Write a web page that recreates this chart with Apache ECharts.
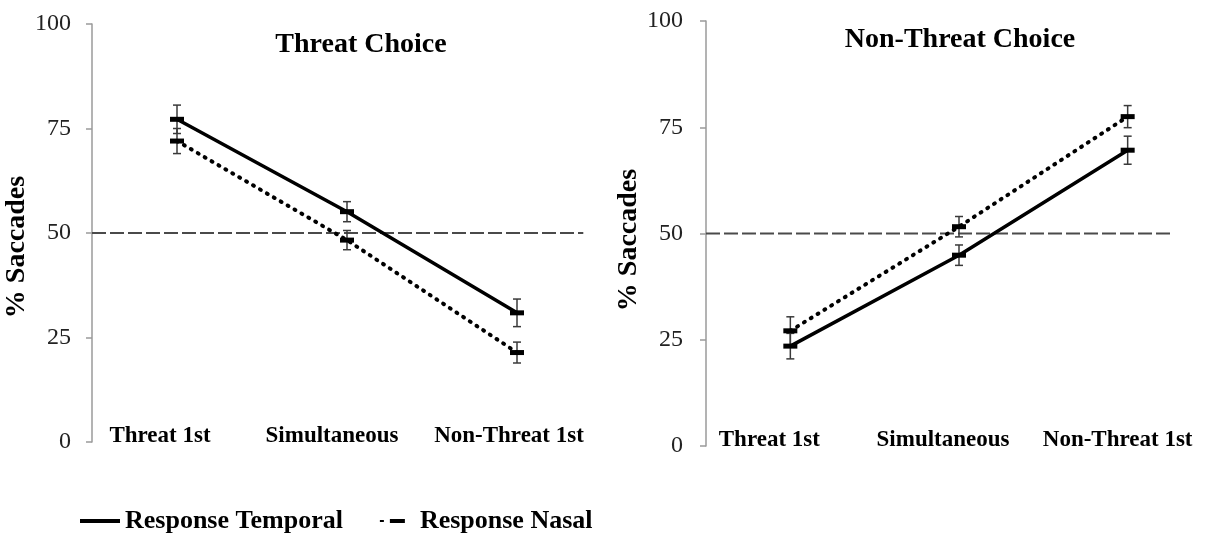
<!DOCTYPE html>
<html><head><meta charset="utf-8">
<script src="https://cdn.jsdelivr.net/npm/echarts@6/dist/echarts.min.js"></script>
<style>html,body{margin:0;padding:0;background:#fff}#c{width:1212px;height:534px}</style>
</head><body><div id="c"></div>
<script>
// ---- data ----
const categories = ['Threat 1st', 'Simultaneous', 'Non-Threat 1st'];
const yTickMin = 0, yTickMax = 100, yTickStep = 25;
const threatTemporal = [77.2, 55.1, 30.9];
const threatTemporalErr = [3.4, 2.4, 3.3];
const threatNasal = [72.0, 48.3, 21.4];
const threatNasalErr = [3.0, 2.3, 2.5];
const nonThreatTemporal = [23.5, 44.9, 69.6];
const nonThreatTemporalErr = [3.0, 2.4, 3.3];
const nonThreatNasal = [27.1, 51.6, 77.5];
const nonThreatNasalErr = [3.3, 2.4, 2.6];
const chanceLevel = 50;
const chanceEndLeft = 2.89;   // in category-band units
const chanceEndRight = 2.76;

// ---- style ----
const SERIF = 'Liberation Serif';
const labelShiftLeft = [17, 15, 8];
const labelShiftRight = [21, 16, 10];

function richFor(shifts) {
  const r = {};
  shifts.forEach((s, i) => {
    r['c' + i] = { fontFamily: SERIF, fontWeight: 'bold', fontSize: 23, color: '#000', padding: [0, 2 * s, 0, 0] };
  });
  return r;
}

function catAxis(gridIndex, shifts) {
  return {
    type: 'category', gridIndex, data: categories, boundaryGap: true,
    axisLine: { show: false }, axisTick: { show: false },
    axisLabel: {
      margin: -17, interval: 0,
      formatter: (v, i) => '{c' + i + '|' + v + '}',
      rich: richFor(shifts)
    }
  };
}
function valXAxis(gridIndex) {
  return { type: 'value', gridIndex, min: 0, max: 3, show: false };
}
function yAx(gridIndex, namePad, nameGap, labelMargin) {
  return {
    type: 'value', gridIndex, min: yTickMin, max: yTickMax, interval: yTickStep,
    name: '% Saccades', nameLocation: 'middle', nameGap,
    nameTextStyle: { fontFamily: SERIF, fontWeight: 'bold', fontSize: 28, color: '#000', padding: [0, namePad, 0, 0] },
    axisLine: { show: true, lineStyle: { color: '#9a9a9a', width: 1.5 } },
    axisTick: { show: true, length: 6, lineStyle: { color: '#9a9a9a', width: 1.5 } },
    splitLine: { show: false },
    axisLabel: { fontFamily: SERIF, fontSize: 24, color: '#222', margin: labelMargin }
  };
}
function lineSeries(name, data, xi, yi, dotted) {
  return {
    type: 'line', name, data, xAxisIndex: xi, yAxisIndex: yi,
    symbol: 'rect', symbolSize: [14, 5],
    itemStyle: { color: '#000' },
    lineStyle: dotted
      ? { color: '#000', width: 4, type: [1, 7], cap: 'round' }
      : { color: '#000', width: 3.5 },
    z: 3, animation: false
  };
}
function errSeries(name, vals, errs, xi, yi) {
  return {
    type: 'custom', name, xAxisIndex: xi, yAxisIndex: yi,
    data: vals.map((v, i) => [i, v, errs[i]]),
    encode: { x: 0, y: 1 },
    renderItem: (params, api) => {
      const x = api.value(0), y = api.value(1), e = api.value(2);
      const t = api.coord([x, y + e]), b = api.coord([x, y - e]);
      const st = { stroke: '#3a3a3a', lineWidth: 1.5 };
      const hw = 4;
      return { type: 'group', children: [
        { type: 'line', shape: { x1: t[0], y1: t[1], x2: b[0], y2: b[1] }, style: st },
        { type: 'line', shape: { x1: t[0] - hw, y1: t[1], x2: t[0] + hw, y2: t[1] }, style: st },
        { type: 'line', shape: { x1: b[0] - hw, y1: b[1], x2: b[0] + hw, y2: b[1] }, style: st }
      ]};
    },
    z: 2, animation: false, silent: true
  };
}
function chanceSeries(endX, xi, yi) {
  return {
    type: 'line', name: 'chance', xAxisIndex: xi, yAxisIndex: yi,
    data: [[0, chanceLevel], [endX, chanceLevel]],
    symbol: 'none', silent: true,
    lineStyle: { color: '#4a4a4a', width: 2, type: [14, 4] },
    z: 1, animation: false
  };
}

const chart = echarts.init(document.getElementById('c'), null, { renderer: 'canvas' });
chart.setOption({
  animation: false,
  backgroundColor: '#fff',
  title: [
    { text: 'Threat Choice', left: 356, top: 26, textAlign: 'center',
      textStyle: { fontFamily: SERIF, fontWeight: 'bold', fontSize: 28, color: '#000' } },
    { text: 'Non-Threat Choice', left: 955, top: 21, textAlign: 'center',
      textStyle: { fontFamily: SERIF, fontWeight: 'bold', fontSize: 28, color: '#000' } }
  ],
  legend: {
    left: 80, top: 508, padding: 0, itemWidth: 40, itemHeight: 4, itemGap: 32,
    data: [
      { name: 'Response Temporal', icon: 'path://M0,0H40V4H0Z' },
      { name: 'Response Nasal', icon: 'path://M5,1H9V3H5Z M15,0H30V4H15Z M0,2H0.01V2.01H0Z M40,2H40.01V2.01H40Z' }
    ],
    textStyle: { fontFamily: SERIF, fontWeight: 'bold', fontSize: 26, color: '#000' }
  },
  grid: [
    { left: 92, top: 24, width: 510, height: 418 },
    { left: 706, top: 21, width: 508, height: 425 }
  ],
  xAxis: [catAxis(0, labelShiftLeft), valXAxis(0), catAxis(1, labelShiftRight), valXAxis(1)],
  yAxis: [yAx(0, 28, 55, 21), yAx(1, 13, 47, 23)],
  series: [
    lineSeries('Response Temporal', threatTemporal, 0, 0, false),
    lineSeries('Response Nasal', threatNasal, 0, 0, true),
    lineSeries('Response Temporal', nonThreatTemporal, 2, 1, false),
    lineSeries('Response Nasal', nonThreatNasal, 2, 1, true),
    chanceSeries(chanceEndLeft, 1, 0),
    chanceSeries(chanceEndRight, 3, 1),
    errSeries('Temporal SE', threatTemporal, threatTemporalErr, 0, 0),
    errSeries('Nasal SE', threatNasal, threatNasalErr, 0, 0),
    errSeries('Temporal SE', nonThreatTemporal, nonThreatTemporalErr, 2, 1),
    errSeries('Nasal SE', nonThreatNasal, nonThreatNasalErr, 2, 1)
  ]
});
</script></body></html>
